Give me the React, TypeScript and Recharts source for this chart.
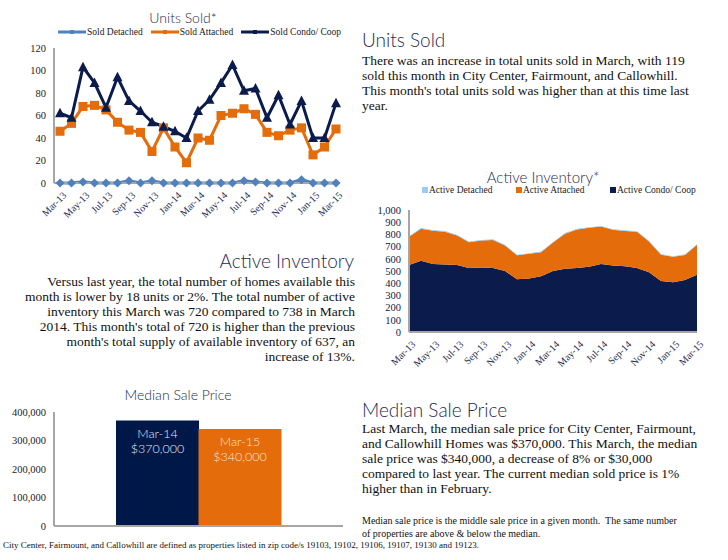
import React from 'react';
import {
  LineChart, Line, AreaChart, Area, BarChart, Bar, Cell, LabelList,
  XAxis, YAxis, Legend,
} from 'recharts';

// months shared by the two trend charts
const months = [
  'Mar-13', 'Apr-13', 'May-13', 'Jun-13', 'Jul-13', 'Aug-13', 'Sep-13', 'Oct-13', 'Nov-13', 'Dec-13',
  'Jan-14', 'Feb-14', 'Mar-14', 'Apr-14', 'May-14', 'Jun-14', 'Jul-14', 'Aug-14', 'Sep-14', 'Oct-14',
  'Nov-14', 'Dec-14', 'Jan-15', 'Feb-15', 'Mar-15',
];

const soldDetached = [0, 0, 1, 0, 0, 0, 2, 0, 2, 0, 0, 0, 0, 0, 0, 0, 2, 1, 0, 0, 0, 3, 0, 0, 0];
const soldAttached = [46, 53, 68, 69, 65, 54, 47, 45, 28, 49, 32, 18, 40, 38, 60, 62, 66, 61, 45, 42, 47, 49, 25, 32, 48];
const soldCondo = [62, 58, 103, 89, 67, 94, 73, 64, 54, 50, 46, 40, 64, 74, 89, 105, 82, 84, 58, 78, 52, 73, 40, 40, 71];

const activeDetached = [5, 6, 6, 6, 6, 6, 6, 6, 6, 5, 5, 5, 5, 5, 5, 5, 5, 5, 5, 5, 5, 5, 5, 5, 5];
const activeAttached = [230, 264, 272, 269, 242, 211, 221, 229, 209, 197, 202, 197, 233, 288, 316, 319, 306, 293, 290, 296, 252, 215, 209, 205, 245];
const activeCondo = [550, 583, 558, 553, 550, 525, 528, 525, 500, 432, 439, 457, 500, 518, 525, 535, 558, 545, 538, 525, 490, 419, 407, 427, 470];

const medianMonths = ['Mar-14', 'Mar-15'];
const medianPrices = [370000, 340000];

const unitsTicks = [0, 20, 40, 60, 80, 100, 120];
const inventoryTicks = [0, 100, 200, 300, 400, 500, 600, 700, 800, 900, 1000];
const priceTicks = [0, 100000, 200000, 300000, 400000];

const NAVY = '#0b1c4c';
const ORANGE = '#e46c0a';
const STEEL = '#4f81bd';
const LIGHT = '#9ccaf2';
const GREY = '#a6a6a6';
const SERIF = '"Liberation Serif", serif';
const SANS = 'Lato, "Open Sans", sans-serif';

const unitsData = months.map((m, i) => ({
  month: m, detached: soldDetached[i], attached: soldAttached[i], condo: soldCondo[i],
}));
const inventoryData = months.map((m, i) => ({
  month: m, detached: activeDetached[i], attached: activeAttached[i], condo: activeCondo[i],
}));
const medianData = medianMonths.map((m, i) => ({ month: m, price: medianPrices[i] }));

const fmt = (v: number) => v.toLocaleString('en-US');

const Diamond = (p: any) => {
  const { cx, cy } = p;
  if (cx == null) return null;
  return <path key={p.index} d={`M${cx},${cy - 4.5}L${cx + 4.5},${cy}L${cx},${cy + 4.5}L${cx - 4.5},${cy}Z`} fill={STEEL} />;
};
const Square = (p: any) => {
  const { cx, cy } = p;
  if (cx == null) return null;
  return <rect key={p.index} x={cx - 4.5} y={cy - 4.5} width={9} height={9} fill={ORANGE} />;
};
const Triangle = (p: any) => {
  const { cx, cy } = p;
  if (cx == null) return null;
  return <path key={p.index} d={`M${cx},${cy - 5.5}L${cx + 5},${cy + 4}L${cx - 5},${cy + 4}Z`} fill={NAVY} />;
};

const unitsLegend = [
  { label: 'Sold Detached', color: STEEL },
  { label: 'Sold Attached', color: ORANGE },
  { label: 'Sold Condo/ Coop', color: NAVY },
];
const inventoryLegend = [
  { label: 'Active Detached', color: LIGHT },
  { label: 'Active Attached', color: ORANGE },
  { label: 'Active Condo/ Coop', color: NAVY },
];

const UnitsLegend = () => (
  <div style={{ display: 'flex', gap: 8, fontFamily: SERIF, fontSize: 9.5, color: '#222' }}>
    {unitsLegend.map((it) => (
      <div key={it.label} style={{ display: 'flex', alignItems: 'center' }}>
        <svg width={28} height={8}>
          <line x1={0} y1={4} x2={28} y2={4} stroke={it.color} strokeWidth={3} />
          <rect x={12} y={2} width={4} height={4} fill={it.color} />
        </svg>
        <span style={{ marginLeft: 1 }}>{it.label}</span>
      </div>
    ))}
  </div>
);

const InventoryLegend = () => (
  <div style={{ display: 'flex', fontFamily: SERIF, fontSize: 9.5, color: '#222' }}>
    {inventoryLegend.map((it, i) => (
      <div key={it.label} style={{ display: 'flex', alignItems: 'center', width: i === 2 ? 100 : 94 }}>
        <span style={{ width: 6, height: 6, background: it.color, marginRight: 1, display: 'inline-block' }} />
        <span>{it.label}</span>
      </div>
    ))}
  </div>
);

// two-line label inside each median bar
const PriceLabel = (p: any) => {
  const { x, y, width, index } = p;
  const cx = x + width / 2;
  const color = index === 0 ? '#e4e9f2' : '#fde4cf';
  return (
    <g>
      <text x={cx} y={y + 17} textAnchor="middle" fill={color} fontFamily={SANS} fontWeight={300} fontSize={12.5}>
        {medianMonths[index]}
      </text>
      <text x={cx} y={y + 32} textAnchor="middle" fill={color} fontFamily={SANS} fontWeight={300} fontSize={12.5}>
        ${fmt(medianPrices[index])}
      </text>
    </g>
  );
};

const heading: React.CSSProperties = {
  position: 'absolute', fontFamily: SANS, fontWeight: 300, fontSize: 19, color: '#1f2b52', lineHeight: '22px', margin: 0,
};
const body: React.CSSProperties = {
  position: 'absolute', fontFamily: SERIF, fontSize: 13.5, color: '#111', lineHeight: '15px', margin: 0, whiteSpace: 'nowrap',
};
const chartTitle: React.CSSProperties = {
  position: 'absolute', fontFamily: SANS, fontWeight: 300, fontSize: 14, color: '#1f2b52', textAlign: 'center', lineHeight: '16px',
};

const xTick = { fontFamily: SERIF, fontSize: 10, fill: '#1f2b52' };
const yTick = { fontFamily: SERIF, fontSize: 10.5, fill: '#222' };

export default function App() {
  return (
    <div style={{ position: 'absolute', left: 0, top: 0, width: 728, height: 560, background: '#fff', overflow: 'hidden' }}>
      {/* Units sold chart */}
      <div style={{ ...chartTitle, left: 83, top: 10, width: 200 }}>Units Sold*</div>
      <div style={{ position: 'absolute', left: 0, top: 0 }}>
        <LineChart width={360} height={240} data={unitsData} margin={{ top: 38, right: 20, left: 0, bottom: 12 }}>
          <XAxis dataKey="month" interval={1} angle={-45} textAnchor="end" tickLine={false}
            axisLine={{ stroke: GREY, strokeWidth: 2 }} tick={xTick} height={45} padding={{ left: 6, right: 4 }} dx={2} />
          <YAxis domain={[0, 120]} ticks={unitsTicks} interval={0} width={54} tickLine={false}
            axisLine={{ stroke: GREY, strokeWidth: 2 }} tick={yTick} />
          <Legend verticalAlign="top" content={UnitsLegend} wrapperStyle={{ top: 27, left: 58, width: 300 }} />
          <Line dataKey="detached" stroke={STEEL} strokeWidth={3} dot={<Diamond />} isAnimationActive={false} />
          <Line dataKey="attached" stroke={ORANGE} strokeWidth={3} dot={<Square />} isAnimationActive={false} />
          <Line dataKey="condo" stroke={NAVY} strokeWidth={3} dot={<Triangle />} isAnimationActive={false} />
        </LineChart>
      </div>

      {/* Units sold text */}
      <div style={{ ...heading, left: 362, top: 29 }}>Units Sold</div>
      <div style={{ ...body, left: 362, top: 53 }}>
        There was an increase in total units sold in March, with 119<br />
        sold this month in City Center, Fairmount, and Callowhill.<br />
        This month's total units sold was higher than at this time last<br />
        year.
      </div>

      {/* Active inventory chart */}
      <div style={{ ...chartTitle, left: 443, top: 169, width: 200, fontSize: 15 }}>Active Inventory*</div>
      <div style={{ position: 'absolute', left: 360, top: 160 }}>
        <AreaChart width={368} height={220} data={inventoryData} margin={{ top: 40, right: 31, left: 0, bottom: 3 }}>
          <XAxis dataKey="month" interval={1} angle={-45} textAnchor="end" tickLine={false}
            axisLine={{ stroke: GREY, strokeWidth: 2 }} tick={xTick} height={45} dx={2} />
          <YAxis domain={[0, 1000]} ticks={inventoryTicks} interval={0} width={49} tickLine={false} tickFormatter={fmt}
            axisLine={{ stroke: GREY, strokeWidth: 2 }} tick={{ ...yTick, fill: NAVY }} />
          <Legend verticalAlign="top" content={InventoryLegend} wrapperStyle={{ top: 25, left: 62, width: 300 }} />
          <Area dataKey="condo" stackId="inv" stroke="none" fill={NAVY} fillOpacity={1} isAnimationActive={false} />
          <Area dataKey="attached" stackId="inv" stroke="none" fill={ORANGE} fillOpacity={1} isAnimationActive={false} />
          <Area dataKey="detached" stackId="inv" stroke="none" fill={LIGHT} fillOpacity={1} isAnimationActive={false} />
        </AreaChart>
      </div>

      {/* Active inventory text */}
      <div style={{ ...heading, right: 728 - 354, top: 250, textAlign: 'right' }}>Active Inventory</div>
      <div style={{ ...body, right: 728 - 355, top: 274, textAlign: 'right' }}>
        Versus last year, the total number of homes available this<br />
        month is lower by 18 units or 2%. The total number of active<br />
        inventory this March was 720 compared to 738 in March<br />
        2014. This month's total of 720 is higher than the previous<br />
        month's total supply of available inventory of 637, an<br />
        increase of 13%.
      </div>

      {/* Median sale price chart */}
      <div style={{ ...chartTitle, left: 78, top: 387, width: 200 }}>Median Sale Price</div>
      <div style={{ position: 'absolute', left: 0, top: 380 }}>
        <BarChart width={360} height={160} data={medianData} margin={{ top: 32, right: 17, left: 0, bottom: 12 }}
          barCategoryGap={0}>
          <XAxis dataKey="month" tick={false} tickLine={false} height={2} padding={{ left: 62, right: 62 }}
            axisLine={{ stroke: GREY, strokeWidth: 2 }} />
          <YAxis domain={[0, 400000]} ticks={priceTicks} interval={0} width={54} tickLine={false} tickFormatter={fmt}
            axisLine={{ stroke: GREY, strokeWidth: 2 }} tick={yTick} />
          <Bar dataKey="price" isAnimationActive={false}>
            {medianData.map((d, i) => (
              <Cell key={d.month} fill={i === 0 ? '#001848' : ORANGE} />
            ))}
            <LabelList dataKey="price" content={PriceLabel} />
          </Bar>
        </BarChart>
      </div>

      {/* Median sale price text */}
      <div style={{ ...heading, left: 362, top: 399 }}>Median Sale Price</div>
      <div style={{ ...body, left: 362, top: 421 }}>
        Last March, the median sale price for City Center, Fairmount,<br />
        and Callowhill Homes was $370,000. This March, the median<br />
        sale price was $340,000, a decrease of 8% or $30,000<br />
        compared to last year. The current median sold price is 1%<br />
        higher than in February.
      </div>
      <div style={{ ...body, left: 362, top: 514, fontSize: 10, lineHeight: '13px' }}>
        Median sale price is the middle sale price in a given month.&nbsp; The same number<br />
        of properties are above &amp; below the median.
      </div>
      <div style={{ ...body, left: 3, top: 540, fontSize: 9, lineHeight: '11px' }}>
        City Center, Fairmount, and Callowhill are defined as properties listed in zip code/s 19103, 19102, 19106, 19107, 19130 and 19123.
      </div>
    </div>
  );
}
